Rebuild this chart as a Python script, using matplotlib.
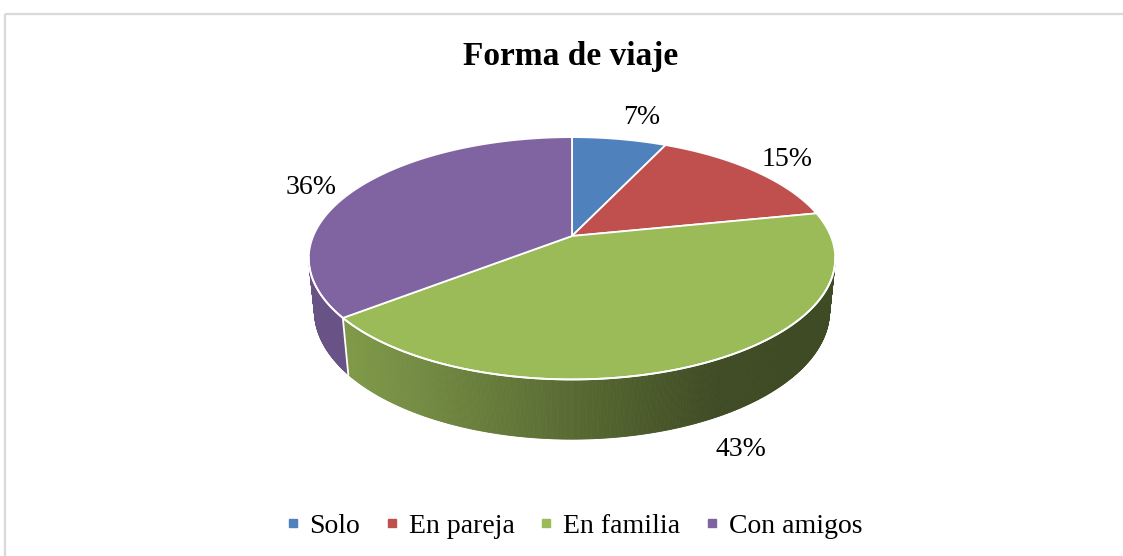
import numpy as np
import matplotlib
matplotlib.use('Agg')
import matplotlib.pyplot as plt
from matplotlib.patches import Polygon, Rectangle
from matplotlib.lines import Line2D
from matplotlib.colors import to_rgb

plt.rcParams['font.family'] = ['Liberation Serif', 'DejaVu Serif']

# data
labels = ['Solo', 'En pareja', 'En familia', 'Con amigos']
values = [7, 15, 43, 36]
pct_labels = ['7%', '15%', '43%', '36%']
colors = ['#4F81BD', '#C0504D', '#9BBB59', '#8064A2']

# layout (pixels)
label_pos = [(642, 118), (787, 160), (741, 449), (311, 187)]
cx, cy = 572, 236
elev = np.radians(26.9)
dist = 4.85
focal = 1255
thick = 0.23


def project(phi, y=0.0, r=1.0):
	# phi in degrees, clockwise from the far point of the disk
	p = np.radians(phi)
	X = r * np.sin(p)
	Z = -r * np.cos(p)
	s, c = np.sin(elev), np.cos(elev)
	depth = dist - (y * s + Z * c)
	v = y * c - Z * s
	return cx + focal * X / depth, cy - focal * v / depth


def shade(x):
	t = np.clip((x - 350) / (720 - 350), 0, 1)
	return 0.82 - 0.42 * t


bounds = np.concatenate([[0], np.cumsum(values)]) / np.sum(values) * 360

fig = plt.figure(figsize=(11.23, 5.56), dpi=100)
ax = fig.add_axes([0, 0, 1, 1])
ax.set_xlim(0, 1123)
ax.set_ylim(556, 0)
ax.axis('off')

ax.add_patch(Rectangle((5, 14), 1300, 700, fill=False, edgecolor='#d9d9d9', lw=1.6))

# side wall, front part only
phis = np.linspace(100, 260, 500)
for a, b in zip(phis[:-1], phis[1:]):
	mid = (a + b) / 2
	k = np.searchsorted(bounds, mid) - 1
	k = min(max(k, 0), len(values) - 1)
	xa, ya = project(a, 0)
	xb, yb = project(b, 0)
	xa2, ya2 = project(a, -thick)
	xb2, yb2 = project(b, -thick)
	f = shade((xa + xb) / 2)
	col = tuple(np.array(to_rgb(colors[k])) * f)
	ax.add_patch(Polygon([(xa, ya), (xb, yb), (xb2, yb2), (xa2, ya2)],
		closed=True, facecolor=col, edgecolor=col, lw=0.6))

# seams on the side
for bnd in bounds[1:-1]:
	if 100 < bnd < 260:
		x0, y0 = project(bnd, 0)
		x1, y1 = project(bnd, -thick)
		ax.plot([x0, x1], [y0, y1], color='white', lw=1.3)

# top face
for k in range(len(values)):
	arc = np.linspace(bounds[k], bounds[k + 1], 120)
	xs, ys = project(arc, 0)
	x0, y0 = project(0, 0, r=0)
	pts = [(x0, y0)] + list(zip(xs, ys))
	ax.add_patch(Polygon(pts, closed=True, facecolor=colors[k], edgecolor='white', lw=1.3))

# white rim at the front
rim = np.linspace(100, 260, 300)
xs, ys = project(rim, 0)
ax.plot(xs, ys, color='white', lw=1.3)

for (x, y), t in zip(label_pos, pct_labels):
	ax.text(x, y, t, fontsize=20, ha='center', va='center')

ax.text(571, 56, 'Forma de viaje', fontsize=24, fontweight='bold', ha='center', va='center')

handles = [Line2D([], [], marker='s', color=c, linestyle='none', markersize=6) for c in colors]
ax.legend(handles, labels, loc='center', bbox_to_anchor=(574 / 1123, 1 - 526 / 556),
	ncol=4, frameon=False, fontsize=20, handlelength=0.5, handletextpad=0.35,
	columnspacing=0.9, borderaxespad=0)

fig.savefig('out.png', dpi=100)
